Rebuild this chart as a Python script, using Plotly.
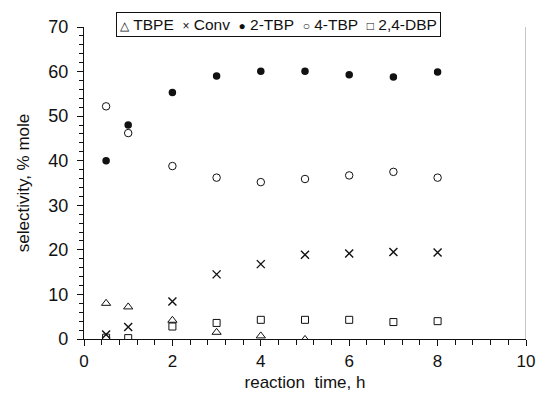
import plotly.graph_objects as go

time_h = [0.5, 1, 2, 3, 4, 5, 6, 7, 8]
tbpe_time = [0.5, 1, 2, 3, 4, 5]
tbpe = [8.0, 7.2, 4.2, 1.5, 0.7, -0.1]
conv = [1.0, 2.7, 8.4, 14.5, 16.8, 18.9, 19.2, 19.5, 19.4]
tbp2 = [40.0, 48.0, 55.3, 59.0, 60.1, 60.1, 59.3, 58.8, 59.9]
tbp4 = [52.2, 46.2, 38.8, 36.2, 35.2, 35.9, 36.7, 37.5, 36.2]
dbp24 = [0.3, 0.2, 2.8, 3.6, 4.3, 4.3, 4.3, 3.8, 4.0]

series_names = ["TBPE", "Conv", "2-TBP", "4-TBP", "2,4-DBP"]
legend_glyphs = ["\u25b3", "\u00d7", "\u25cf", "\u25cb", "\u25a1"]

FONT = "Liberation Sans, Arial, sans-serif"
ink = "#111111"

fig = go.Figure()
fig.add_trace(go.Scatter(x=tbpe_time, y=tbpe, mode="markers", name=series_names[0],
                         marker=dict(symbol="triangle-up-open", size=8, color=ink, line=dict(width=1))))
fig.add_trace(go.Scatter(x=time_h, y=conv, mode="markers", name=series_names[1],
                         marker=dict(symbol="x-thin-open", size=8, color=ink, line=dict(width=1.4, color=ink))))
fig.add_trace(go.Scatter(x=time_h, y=tbp2, mode="markers", name=series_names[2],
                         marker=dict(symbol="circle", size=7.5, color=ink)))
fig.add_trace(go.Scatter(x=time_h, y=tbp4, mode="markers", name=series_names[3],
                         marker=dict(symbol="circle-open", size=7.5, color=ink, line=dict(width=1))))
fig.add_trace(go.Scatter(x=time_h, y=dbp24, mode="markers", name=series_names[4],
                         marker=dict(symbol="square-open", size=7, color=ink, line=dict(width=1))))

# grey right-hand frame line
fig.add_shape(type="line", xref="x", yref="paper", x0=10, x1=10, y0=0, y1=1,
              line=dict(color="#b5b5b5", width=1.5))

# compact boxed legend as one line of text
nb = "\u00a0"
legend_text = (nb * 2).join(
    f'<span style="font-size:12px">{g}</span>{nb}{n}' for g, n in zip(legend_glyphs, series_names)
)
fig.add_annotation(text=legend_text, xref="paper", yref="paper", x=0.4407, y=1.008,
                   xanchor="center", yanchor="middle", showarrow=False,
                   font=dict(size=15.5, family=FONT, color=ink),
                   bordercolor=ink, borderwidth=1, borderpad=3, bgcolor="white")

fig.update_layout(
    template="none",
    width=537, height=405,
    margin=dict(l=83.5, r=11, t=27, b=66),
    paper_bgcolor="white", plot_bgcolor="white",
    font=dict(family=FONT, color=ink),
    showlegend=False,
    xaxis=dict(range=[0, 10], tick0=0, dtick=2, showgrid=False, zeroline=False,
               showline=True, linecolor=ink, linewidth=1.2,
               ticks="outside", ticklen=6, tickwidth=1.2, tickcolor=ink,
               minor=dict(tick0=0, dtick=0.4, ticks="outside", ticklen=5, tickwidth=1, tickcolor=ink,
                          showgrid=False),
               tickfont=dict(size=17, family=FONT, color=ink),
               title=dict(text="reaction  time, h", font=dict(size=17, family=FONT, color=ink), standoff=6)),
    yaxis=dict(range=[0, 70], tick0=0, dtick=10, showgrid=False, zeroline=False,
               showline=True, linecolor=ink, linewidth=1.2,
               ticks="outside", ticklen=6, tickwidth=1.2, tickcolor=ink,
               minor=dict(tick0=0, dtick=2, ticks="outside", ticklen=4, tickwidth=1, tickcolor=ink,
                          showgrid=False),
               tickfont=dict(size=18, family=FONT, color=ink), ticklabelstandoff=5,
               title=dict(text="selectivity, % mole", font=dict(size=17, family=FONT, color=ink), standoff=14)),
)

fig.write_html("out.html")
